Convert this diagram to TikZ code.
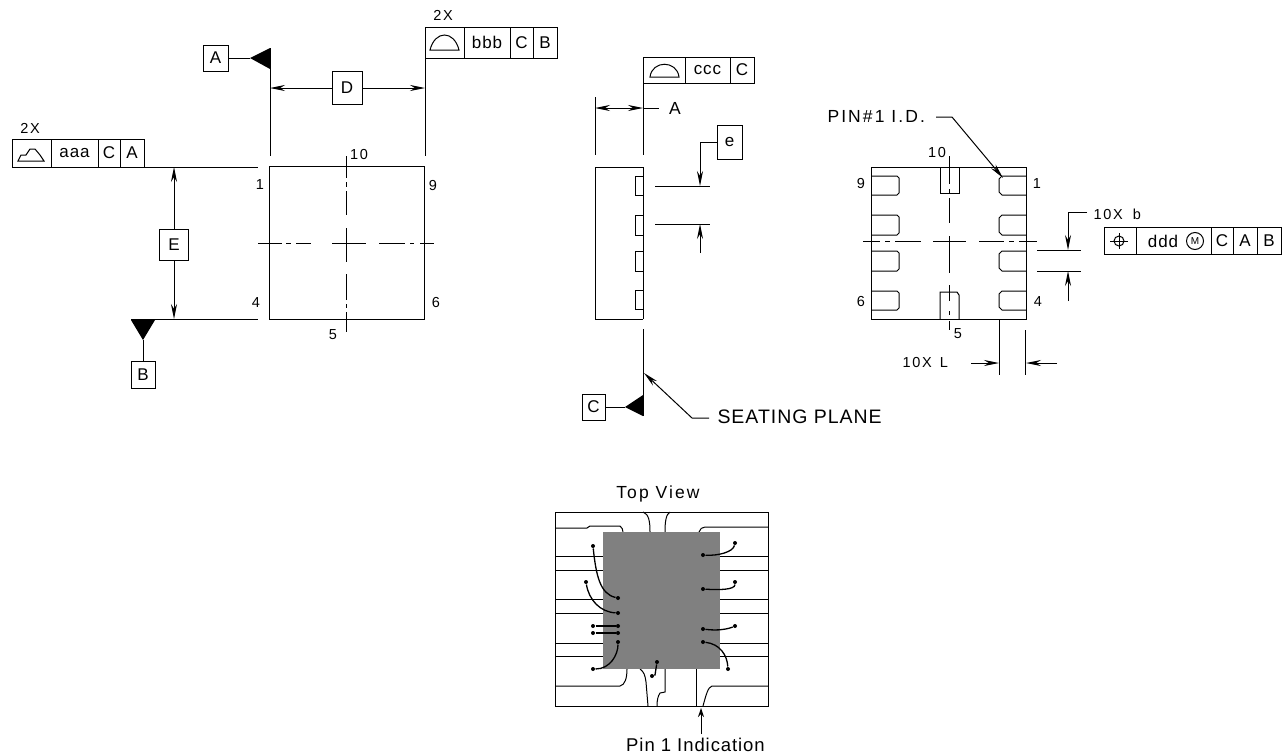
\documentclass[tikz,border=0pt]{standalone}
\usepackage{fontspec}
\setmainfont{Liberation Sans}
\newfontfamily\cadfont[LetterSpace=12]{Liberation Sans}
\newfontfamily\cadwide[LetterSpace=5]{Liberation Sans}
\usetikzlibrary{arrows.meta}
\tikzstyle{cell} = [rectangle, draw=black, line width=1pt, inner sep=0pt, outer sep=0pt, text centered, font=\cadwide\fontsize{17}{19}\selectfont]
\tikzstyle{pinlbl} = [inner sep=0pt, font=\cadfont\fontsize{14.5}{16}\selectfont]
\tikzstyle{lbl} = [inner sep=0pt, font=\cadfont\fontsize{17.5}{20}\selectfont]
\tikzstyle{biglbl} = [inner sep=0pt, font=\cadwide\fontsize{19.5}{22}\selectfont]
\tikzstyle{arrow} = [line width=1pt,-{Stealth[length=15pt,width=6pt]}]
\tikzstyle{part} = [line width=1pt]
\tikzstyle{wire} = [line width=1.3pt]
\tikzstyle{bonddot} = [circle, fill=black, inner sep=0pt, minimum size=4pt]
\begin{document}
\begin{tikzpicture}[x=1pt,y=-1pt,line width=1pt]
\useasboundingbox (0,0) rectangle (1285,755);

% top view outline
\node (topview) [rectangle, draw=black, line width=1pt, outer sep=0pt, minimum width=155pt, minimum height=153pt] at (346.5,242.5) {};
\node (pinone) [pinlbl] at (260,185) {1};
\node (pinfour) [pinlbl] at (256,303) {4};
\node (pinnine) [pinlbl] at (433,186) {9};
\node (pinsix) [pinlbl] at (436,303) {6};
\node (pinten) [pinlbl] at (359,155) {10};
\node (pinfive) [pinlbl] at (333,335) {5};
\draw [part, dash pattern=on 22pt off 4pt on 5pt off 4pt on 24pt off 13pt on 34pt off 12pt on 26pt off 4pt on 4pt off 4pt on 22pt] (346,156) -- (346,332);
\draw [part, dash pattern=on 24pt off 4pt on 5pt off 5pt on 15pt off 21pt on 34pt off 13pt on 26pt off 5pt on 4pt off 6pt on 18pt] (258,243) -- (434,243);

% datum A and dimension D
\node (boxA) [cell, minimum width=25pt, minimum height=26pt] at (215.5,58) {A};
\coordinate (triA) at (250,58);
\draw [part] (boxA) -- (triA);
\fill (270,48) -- (270,69) -- (triA) -- cycle;
\draw [part] (270,48) -- (270,156);
\draw [part] (425,58) -- (425,156);
\node (boxD) [cell, minimum width=30pt, minimum height=33pt] at (347,88) {D};
\coordinate (dimDl) at (270,88);
\coordinate (dimDr) at (425,88);
\draw [arrow] (boxD) -- (dimDl);
\draw [arrow] (boxD) -- (dimDr);

% frame above D
\node (twoXtop) [pinlbl] at (443,15) {2X};
\node (fcfbA) [cell, minimum width=39pt, minimum height=31pt] at (444.5,42.5) {};
\node (fcfbB) [cell, minimum width=46pt, minimum height=31pt] at (487,42.5) {bbb};
\node (fcfbC) [cell, minimum width=23pt, minimum height=31pt] at (521.5,42.5) {C};
\node (fcfbD) [cell, minimum width=24pt, minimum height=31pt] at (545,42.5) {B};
\draw [part] (430,50) .. controls (435,30) and (454,30) .. (459,50) -- cycle;

% frame on the left, dimension E and datum B
\node (twoXleft) [pinlbl] at (30,128) {2X};
\node (fcfaA) [cell, minimum width=39pt, minimum height=28pt] at (31.5,153) {};
\node (fcfaB) [cell, minimum width=47pt, minimum height=28pt] at (74.5,153) {aaa};
\node (fcfaC) [cell, minimum width=22pt, minimum height=28pt] at (109,153) {C};
\node (fcfaD) [cell, minimum width=24pt, minimum height=28pt] at (132,153) {A};
\draw [part] (18,161) -- (21,155) -- (26,155) -- (30,149) -- (35,149) -- (40,155) -- (44,161) -- cycle;
\draw [part] (144,167) -- (258,167);
\draw [part] (131,319) -- (258,319);
\node (boxE) [cell, minimum width=29pt, minimum height=31pt] at (174,244.5) {E};
\coordinate (dimEt) at (174,167);
\coordinate (dimEb) at (174,319);
\draw [arrow] (boxE) -- (dimEt);
\draw [arrow] (boxE) -- (dimEb);
\coordinate (triB) at (143,340);
\fill (131,320) -- (155,320) -- (triB) -- cycle;
\node (boxB) [cell, minimum width=24pt, minimum height=27pt] at (143,374.5) {B};
\draw [part] (triB) -- (boxB);

% side view
\draw [part] (643,167) -- (595,167) -- (595,319) -- (643,319);
\draw [part] (643,167) -- (643,319);
\foreach \ya/\yb in {176/195, 215/235, 251/271, 290/309}
  \draw [part] (643,\ya) -- (635,\ya) -- (635,\yb) -- (643,\yb);
\node (fcfcA) [cell, minimum width=42pt, minimum height=26pt] at (664,70) {};
\node (fcfcB) [cell, minimum width=45pt, minimum height=26pt] at (707.5,70) {ccc};
\node (fcfcC) [cell, minimum width=24pt, minimum height=26pt] at (742,70) {C};
\draw [part] (650,77) .. controls (652,60) and (677,60) .. (679,77) -- cycle;
\draw [part] (643,83) -- (643,155);
\draw [part] (595,97) -- (595,155);
\node (dimAlbl) [lbl] at (675,108) {A};
\coordinate (dimAl) at (595,108);
\coordinate (dimAm) at (619,108);
\coordinate (dimAr) at (643,108);
\draw [arrow] (dimAm) -- (dimAl);
\draw [arrow] (dimAm) -- (dimAr);
\draw [part] (dimAr) -- (659,108);
\node (boxe) [cell, minimum width=25pt, minimum height=34pt] at (729.5,142) {e};
\coordinate (dimet) at (700,186);
\coordinate (dimeb) at (700,224);
\coordinate (dimes) at (700,253);
\draw [arrow] (boxe.west) -| (dimet);
\draw [arrow] (dimes) -- (dimeb);
\draw [part] (655,186) -- (710,186);
\draw [part] (655,224) -- (710,224);
\draw [part] (643,329) -- (643,416);
\coordinate (triC) at (625,407);
\fill (643,395) -- (643,416) -- (triC) -- cycle;
\node (boxC) [cell, minimum width=23pt, minimum height=26pt] at (593.5,407) {C};
\draw [part] (boxC) -- (triC);
\node (seating) [biglbl, anchor=west] at (717,417) {SEATING PLANE};
\coordinate (seatend) at (709,418);
\coordinate (seatbend) at (692,418);
\coordinate (seattip) at (644,373);
\draw [arrow] (seatend) -- (seatbend) -- (seattip);

% bottom view
\node (botview) [rectangle, draw=black, line width=1pt, outer sep=0pt, minimum width=155pt, minimum height=152pt] at (948.5,243) {};
\foreach \ya/\yb in {176/195, 215/235, 251/271, 291/310} {
  \draw [part] (871,\ya) -- (897,\ya) -- (899,\ya+2) -- (899,\yb-2) -- (897,\yb) -- (871,\yb);
  \draw [part] (1026,\ya) -- (1002,\ya) -- (999,\ya+3) -- (999,\yb-3) -- (1002,\yb) -- (1026,\yb);
}
\draw [part] (940,167) -- (940,193) -- (959,193) -- (959,167);
\draw [part] (940,319) -- (940,292) -- (957,292) -- (959,295) -- (959,319);
\draw [part, dash pattern=on 28pt off 5pt on 4pt off 5pt on 25pt off 13pt on 37pt off 12pt on 16pt off 10pt on 4pt off 6pt on 20pt] (949,156) -- (949,330);
\draw [part, dash pattern=on 17pt off 5pt on 5pt off 5pt on 26pt off 12pt on 33pt off 13pt on 25pt off 5pt on 5pt off 5pt on 19pt] (863,241) -- (1037,241);
\node (bpinnine) [pinlbl] at (861,184) {9};
\node (bpinone) [pinlbl] at (1037,184) {1};
\node (bpinsix) [pinlbl] at (861,302) {6};
\node (bpinfour) [pinlbl] at (1038,302) {4};
\node (bpinten) [pinlbl] at (937,153) {10};
\node (bpinfive) [pinlbl] at (958,334) {5};
\node (pinid) [lbl, anchor=west] at (827,116) {PIN\#1 I.D.};
\coordinate (pinidend) at (936,117);
\coordinate (pinidbend) at (952,117);
\coordinate (pinidtip) at (1003,178);
\draw [arrow] (pinidend) -- (pinidbend) -- (pinidtip);

% dimension b and its frame
\node (dimblbl) [pinlbl, anchor=west] at (1093,214) {10X\hspace{10pt}b};
\coordinate (dimbend) at (1087,212);
\coordinate (dimbt) at (1068,250);
\coordinate (dimbb) at (1068,271);
\coordinate (dimbs) at (1068,301);
\draw [arrow] (dimbend) -| (dimbt);
\draw [arrow] (dimbs) -- (dimbb);
\draw [part] (1037,250) -- (1081,250);
\draw [part] (1037,271) -- (1081,271);
\node (fcfdA) [cell, minimum width=32pt, minimum height=27pt] at (1120,240.5) {};
\node (fcfdB) [cell, minimum width=75pt, minimum height=27pt] at (1173.5,240.5) {};
\node (fcfdC) [cell, minimum width=22pt, minimum height=27pt] at (1222,240.5) {C};
\node (fcfdD) [cell, minimum width=24pt, minimum height=27pt] at (1245,240.5) {A};
\node (fcfdE) [cell, minimum width=24pt, minimum height=27pt] at (1269,240.5) {B};
\node (fcfdt) [inner sep=0pt, font=\cadwide\fontsize{17}{19}\selectfont] at (1163,241) {ddd};
\node (fcfdm) [circle, draw=black, line width=1pt, inner sep=0.5pt, minimum size=17pt, font=\fontsize{10}{10}\selectfont] at (1195,241) {M};
\draw [part] (1119,241) circle (5pt);
\draw [part] (1110,241) -- (1128,241);
\draw [part] (1119,233) -- (1119,249);

% dimension L
\node (dimLlbl) [pinlbl, anchor=west] at (902,363) {10X\hspace{8pt}L};
\coordinate (dimLl) at (999,363);
\coordinate (dimLr) at (1026,363);
\coordinate (dimLs) at (971,363);
\coordinate (dimLe) at (1057,363);
\draw [arrow] (dimLs) -- (dimLl);
\draw [arrow] (dimLe) -- (dimLr);
\draw [part] (999,319) -- (999,375);
\draw [part] (1025,330) -- (1025,375);

% leadframe picture
\node (topviewlbl) [lbl] at (658,494) {Top View};
\node (frame) [rectangle, draw=black, line width=1pt, outer sep=0pt, minimum width=213pt, minimum height=194pt] at (661.5,609) {};
\foreach \yl in {556, 570, 599, 613, 643, 656} {
  \draw [part] (555,\yl) -- (603,\yl);
  \draw [part] (720,\yl) -- (768,\yl);
}
\draw [part] (555,528) -- (587,528) -- (590,526) -- (620,526) .. controls (622,527) and (623,530) .. (623,532);
\draw [part] (643,512) .. controls (649,514) and (650,522) .. (650,532);
\draw [part] (670,512) .. controls (666,514) and (665,522) .. (665,532);
\draw [part] (768,527) -- (705,527) .. controls (702,527) and (700,529) .. (699,532);
\draw [part] (555,686) -- (620,686) .. controls (625,685) and (627,678) .. (627,669);
\draw [part] (640,669) .. controls (644,672) and (645,675) .. (646,682) -- (648,706);
\draw [part] (665,669) -- (665,692) -- (660,693) .. controls (658,696) and (657,700) .. (657,706);
\draw [part] (696,669) -- (696,706);
\draw [part] (768,686) -- (712,686) .. controls (708,687) and (706,695) .. (703,706);
\node (chip) [rectangle, fill={rgb,255:red,128;green,128;blue,128}, inner sep=0pt, outer sep=0pt, minimum width=117pt, minimum height=137pt] at (661.5,600.5) {};

% bond wires
\foreach \name/\xa/\ya/\xb/\yb in {wa/593/546/618/598, wb/586/582/618/613, wc/593/626/618/626, wd/593/633/618/633, we/618/642/593/669, wf/657/662/652/676, wg/703/555/735/543, wh/703/589/735/582, wi/703/629/735/626, wj/703/642/728/669} {
  \node (\name s) [bonddot] at (\xa,\ya) {};
  \node (\name e) [bonddot] at (\xb,\yb) {};
}
\draw [wire] (was) .. controls (596,575) and (600,594) .. (wae);
\draw [wire] (wbs) .. controls (589,600) and (600,612) .. (wbe);
\draw [wire] (wcs) -- (wce);
\draw [wire] (wds) -- (wde);
\draw [wire] (wes) .. controls (618,655) and (610,669) .. (wee);
\draw [wire] (wfs) -- (655,675) -- (wfe);
\draw [wire] (wgs) .. controls (718,556) and (733,552) .. (wge);
\draw [wire] (whs) .. controls (718,590) and (735,590) .. (whe);
\draw [wire] (wis) .. controls (718,631) and (728,629) .. (wie);
\draw [wire] (wjs) .. controls (720,644) and (727,655) .. (wje);

% pin 1 pointer
\node (pinonelbl) [biglbl, font=\cadwide\fontsize{18.5}{20}\selectfont] at (695.5,745) {Pin 1 Indication};
\coordinate (pinonetip) at (701,708);
\draw [line width=1pt,-{Stealth[length=9pt,width=6pt]}] (701,734) -- (pinonetip);
\end{tikzpicture}
\end{document}
